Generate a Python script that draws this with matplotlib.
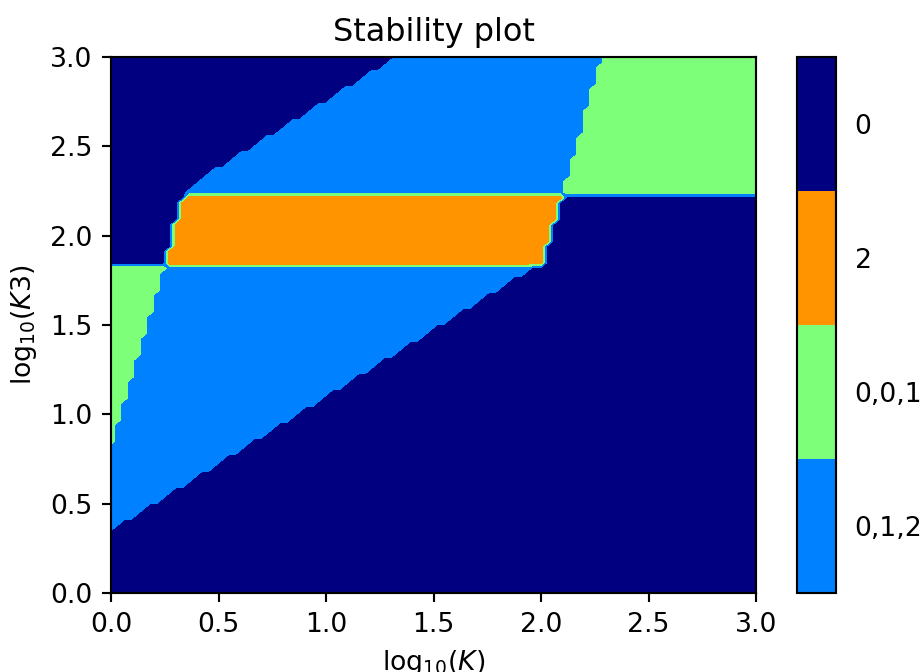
import numpy as np
import matplotlib
matplotlib.use("Agg")
import matplotlib.pyplot as plt
from matplotlib.colors import ListedColormap, BoundaryNorm
from matplotlib.cm import ScalarMappable

# Parameter grid in log10 space
n_grid = 100
log_k = np.linspace(0.0, 3.0, n_grid)
log_k3 = np.linspace(0.0, 3.0, n_grid)

# Region boundaries: log10(K3) = intercept + slope * log10(K)
lower_line = (0.35, 0.75)
upper_line = (2.0, 0.75)
left_line = (0.82, 4.1)
right_line = (-6.37, 4.1)
# Horizontal band limits in log10(K3)
band_low = 1.84
band_high = 2.23

# Region codes and their stable-state labels
code_single = 0     # "0"
code_triple = 1     # "0,1,2"
code_mixed = 2      # "0,0,1"
code_two = 3        # "2"
cbar_labels = ["0,1,2", "0,0,1", "2", "0"]

X, Y = np.meshgrid(log_k, log_k3)
below_lower = Y < lower_line[0] + lower_line[1] * X
above_upper = Y > upper_line[0] + upper_line[1] * X
left_of_left = Y > left_line[0] + left_line[1] * X
right_of_right = Y < right_line[0] + right_line[1] * X
in_band = (Y > band_low) & (Y < band_high)
between_lr = ~left_of_left & ~right_of_right

Z = np.full(X.shape, code_single, dtype=float)
Z[between_lr & ~below_lower & ~above_upper] = code_triple
Z[between_lr & in_band] = code_two
Z[left_of_left & (Y < band_low) & ~below_lower] = code_mixed
Z[right_of_right & (Y > band_high)] = code_mixed

jet = plt.get_cmap("jet")
region_colors = [jet(0.0), jet(0.25), jet(0.5), jet(0.75)]  # codes 0..3

fig = plt.figure(figsize=(922 / 192, 672 / 192), dpi=192)
ax = fig.add_axes([111 / 922, 1 - 593 / 672, 645 / 922, 536 / 672])
cax = fig.add_axes([797 / 922, 1 - 593 / 672, 39 / 922, 536 / 672])

ax.contourf(X, Y, Z, levels=[-0.5, 0.5, 1.5, 2.5, 3.5], colors=region_colors)
ax.set_xlim(0, 3)
ax.set_ylim(0, 3)
ax.set_xticks(np.arange(0, 3.01, 0.5))
ax.set_yticks(np.arange(0, 3.01, 0.5))
ax.set_xlabel(r"$\mathrm{log}_{10}(K)$")
ax.set_ylabel(r"$\mathrm{log}_{10}(K3)$")
ax.set_title("Stability plot")

# Colorbar ordered bottom-to-top: "0,1,2", "0,0,1", "2", "0"
cbar_cmap = ListedColormap([region_colors[code_triple], region_colors[code_mixed],
                            region_colors[code_two], region_colors[code_single]])
cbar_norm = BoundaryNorm([0, 1, 2, 3, 4], cbar_cmap.N)
cb = fig.colorbar(ScalarMappable(norm=cbar_norm, cmap=cbar_cmap), cax=cax)
cb.set_ticks([0.5, 1.5, 2.5, 3.5])
cb.set_ticklabels(cbar_labels)
cax.minorticks_off()
cax.tick_params(which="both", length=0, pad=7)

fig.savefig("out.png", dpi=192)
